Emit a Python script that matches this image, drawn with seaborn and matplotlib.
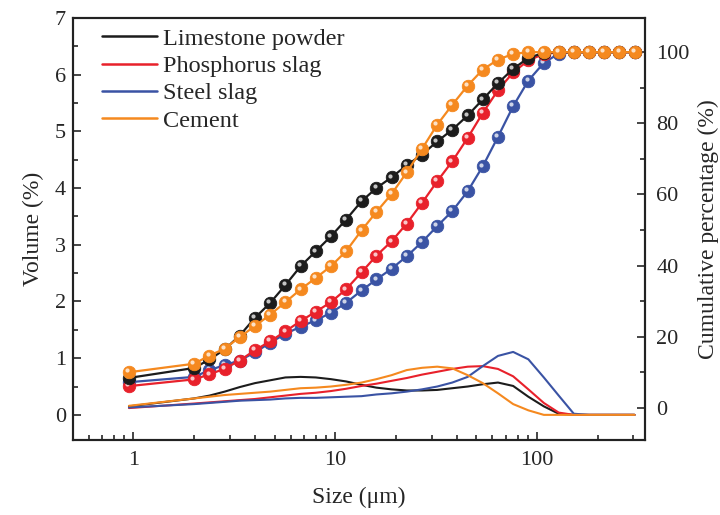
import matplotlib
matplotlib.use("Agg")
import matplotlib.pyplot as plt
import matplotlib.transforms as mtransforms
from matplotlib.ticker import MultipleLocator, FixedLocator, NullFormatter
import seaborn as sns
import pandas as pd

sizes = [0.95, 2.0, 2.38, 2.83, 3.36, 4.0, 4.76, 5.66, 6.73, 8.0, 9.51, 11.3, 13.5, 16.0,
         19.0, 22.6, 26.9, 32.0, 38.0, 45.3, 53.8, 64.0, 76.1, 90.5, 108.0, 128.0, 152.0,
         181.0, 215.0, 256.0, 304.0]

series_names = ["Limestone powder", "Phosphorus slag", "Steel slag", "Cement"]
colors = ["#1c1c1c", "#e8212b", "#3a53a4", "#f5891f"]

vol_limestone = [0.15, 0.29, 0.34, 0.41, 0.49, 0.56, 0.61, 0.66, 0.67, 0.66, 0.63, 0.59, 0.53, 0.48,
                 0.45, 0.43, 0.43, 0.44, 0.47, 0.50, 0.54, 0.57, 0.51, 0.32, 0.15, 0.02, 0.0,
                 0.0, 0.0, 0.0, 0.0]
vol_phosphorus = [0.12, 0.20, 0.22, 0.24, 0.26, 0.28, 0.31, 0.34, 0.37, 0.39, 0.42, 0.46, 0.51, 0.55,
                  0.60, 0.65, 0.71, 0.76, 0.81, 0.85, 0.86, 0.81, 0.68, 0.45, 0.21, 0.04, 0.0,
                  0.0, 0.0, 0.0, 0.0]
vol_steel = [0.13, 0.19, 0.21, 0.23, 0.25, 0.26, 0.27, 0.29, 0.30, 0.30, 0.31, 0.32, 0.33, 0.36,
             0.38, 0.41, 0.45, 0.50, 0.57, 0.67, 0.86, 1.04, 1.11, 0.98, 0.66, 0.34, 0.02,
             0.0, 0.0, 0.0, 0.0]
vol_cement = [0.16, 0.29, 0.32, 0.35, 0.37, 0.39, 0.41, 0.44, 0.47, 0.48, 0.50, 0.53, 0.57, 0.63,
              0.70, 0.79, 0.83, 0.85, 0.82, 0.70, 0.56, 0.38, 0.19, 0.08, 0.0, 0.0, 0.0,
              0.0, 0.0, 0.0, 0.0]

cum_limestone = [8.4, 11.2, 13.6, 16.4, 20.3, 25.3, 29.5, 34.5, 39.8, 44.0, 48.2, 52.9, 58.1, 61.8,
                 64.8, 68.2, 71.2, 74.9, 78.2, 82.2, 86.7, 91.3, 95.3, 98.4, 99.8, 100, 100,
                 100, 100, 100, 100]
cum_phosphorus = [6.1, 8.0, 9.4, 11.0, 13.3, 16.2, 18.7, 21.5, 24.4, 27.0, 29.7, 33.3, 38.1, 42.8,
                  46.8, 51.8, 57.6, 63.7, 69.3, 75.9, 82.9, 89.3, 94.3, 97.7, 99.5, 100, 100,
                  100, 100, 100, 100]
cum_steel = [7.2, 8.7, 10.6, 12.0, 13.3, 15.6, 18.3, 20.8, 22.8, 24.6, 26.7, 29.5, 33.0, 36.1,
             39.1, 42.6, 46.6, 51.1, 55.3, 60.9, 67.9, 76.2, 84.8, 92.0, 97.0, 99.6, 100,
             100, 100, 100, 100]
cum_cement = [10.0, 12.4, 14.7, 16.6, 19.9, 23.0, 26.2, 29.7, 33.3, 36.5, 39.8, 44.0, 49.9, 55.1,
              60.1, 66.2, 72.8, 79.6, 85.2, 90.6, 95.1, 97.9, 99.5, 100, 100, 100, 100,
              100, 100, 100, 100]

vols = [vol_limestone, vol_phosphorus, vol_steel, vol_cement]
cums = [cum_limestone, cum_phosphorus, cum_steel, cum_cement]

sns.set_style("ticks")
plt.rcParams["font.family"] = ["Liberation Serif", "DejaVu Serif"]
plt.rcParams["mathtext.fontset"] = "stix"

fig = plt.figure(figsize=(7.2, 5.15), dpi=100)
ax = fig.add_axes([0.101, 0.146, 0.795, 0.819])
ax2 = ax.twinx()

for name, col, v in zip(series_names, colors, vols):
    df = pd.DataFrame({"size": sizes, "vol": v})
    sns.lineplot(data=df, x="size", y="vol", color=col, linewidth=1.5, ax=ax,
                 label=name, sort=False)

hl_trans = mtransforms.offset_copy(ax2.transData, fig=fig, x=-1.3, y=1.3, units="points")
order = [2, 1, 0, 3]
for i in order:
    df = pd.DataFrame({"size": sizes, "cum": cums[i]})
    sns.lineplot(data=df, x="size", y="cum", color=colors[i], linewidth=1.6, ax=ax2,
                 marker="o", markersize=9, markeredgewidth=0.6,
                 markeredgecolor=colors[i], legend=False, sort=False)
    ax2.plot(sizes, cums[i], linestyle="none", marker="o", markersize=3.0,
             markerfacecolor="white", markeredgewidth=0, alpha=0.75, transform=hl_trans)

ax.set_xscale("log")
ax.set_xlim(0.5, 343)
ax.set_ylim(-0.44, 7)
ax2.set_ylim(-9.0, 109.6)

ax.set_xticks([1, 10, 100])
ax.set_xticklabels(["1", "10", "100"])
ax.yaxis.set_major_locator(MultipleLocator(1))
ax.yaxis.set_minor_locator(MultipleLocator(0.5))
ax2.yaxis.set_major_locator(FixedLocator([0, 20, 40, 60, 80, 100]))
ax2.yaxis.set_minor_locator(FixedLocator([10, 30, 50, 70, 90]))

for a in (ax, ax2):
    a.tick_params(which="both", direction="in", labelsize=16, width=1.2)
    a.tick_params(which="major", length=6)
    a.tick_params(which="minor", length=3.5)
    for s in a.spines.values():
        s.set_linewidth(1.5)
        s.set_color("#222222")
ax.tick_params(axis="x", which="both", top=False, pad=8)
ax.tick_params(axis="y", which="both", right=False, pad=5)
ax2.tick_params(axis="y", pad=8)
ax.xaxis.set_minor_formatter(NullFormatter())

ax.set_xlabel("Size (μm)", fontsize=17, labelpad=12)
ax.set_ylabel("Volume (%)", fontsize=17, labelpad=8)
ax2.set_ylabel("Cumulative percentage (%)", fontsize=17, labelpad=6)

leg = ax.legend(loc="upper left", frameon=False, fontsize=17.5, handlelength=2.25,
                handletextpad=0.25, labelspacing=0.22, borderaxespad=0.0,
                bbox_to_anchor=(0.035, 1.0))
for h in leg.get_lines():
    h.set_linewidth(1.8)

fig.savefig("out.png", dpi=100)
